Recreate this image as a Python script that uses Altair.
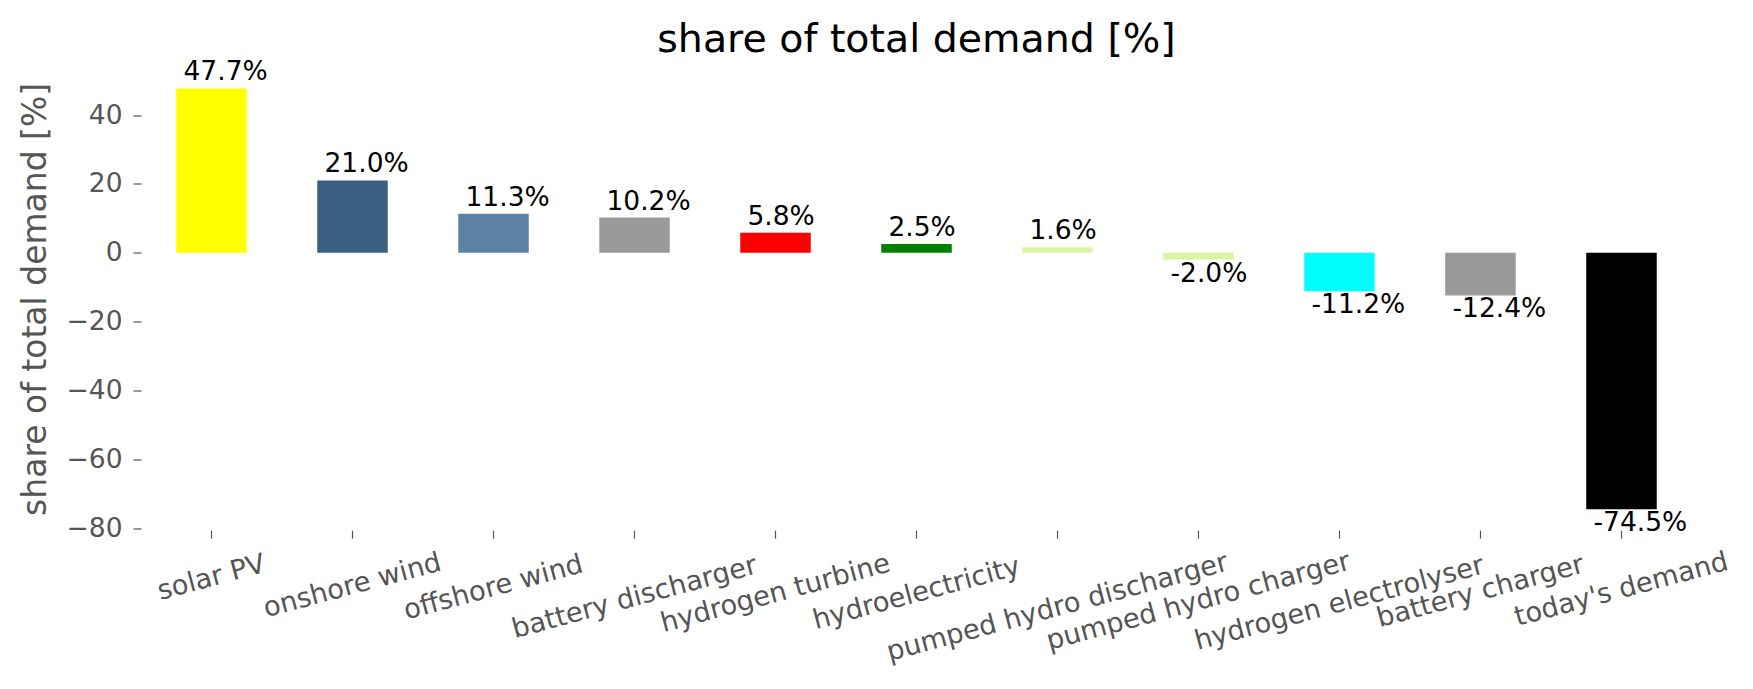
import altair as alt
import pandas as pd

techs = ["solar PV", "onshore wind", "offshore wind", "battery discharger",
         "hydrogen turbine", "hydroelectricity", "pumped hydro discharger",
         "pumped hydro charger", "hydrogen electrolyser", "battery charger",
         "today's demand"]
shares = [47.7, 21.0, 11.3, 10.2, 5.8, 2.5, 1.6, -2.0, -11.2, -12.4, -74.5]
colors = ["#ffff00", "#3b6182", "#5c82a3", "#999999", "#ff0000", "#008000",
          "#d9f5a3", "#d9f5a3", "#00ffff", "#999999", "#000000"]
y_ticks = [-80, -60, -40, -20, 0, 20, 40]

df = pd.DataFrame({"tech": techs, "share": shares, "color": colors})
df["label"] = [f"{v:.1f}%" for v in shares]

W, H = 1551, 462.7
FONT = "DejaVu Sans"
GREY = "#555555"

xs = alt.Scale(domain=techs, paddingInner=0.5, paddingOuter=0.25)
ys = alt.Scale(domain=[-80.6, 53.8], nice=False, zero=False)

base = alt.Chart(df)

bars = base.mark_bar().encode(
    x=alt.X("tech:N", sort=techs, scale=xs,
            axis=alt.Axis(title=None, labels=False, ticks=True, tickSize=8,
                          tickWidth=1.2, tickColor=GREY, domain=False, grid=False)),
    y=alt.Y("share:Q", scale=ys,
            axis=alt.Axis(values=y_ticks, grid=False, domain=False, tickSize=8,
                          tickWidth=1.2, tickColor=GREY, labelFontSize=26.5,
                          labelColor=GREY, labelFont=FONT, labelPadding=11,
                          title="share of total demand [%]", titleFontSize=33,
                          titleColor=GREY, titleFont=FONT, titleFontWeight="normal",
                          titleX=-96, titleY=H / 2, titleAngle=270,
                          titleBaseline="alphabetic", titleAlign="center")),
    y2=alt.datum(0),
    color=alt.Color("color:N", scale=None),
)

pos = base.transform_filter("datum.share >= 0").mark_text(
    align="left", baseline="bottom", dx=-28, dy=-2, fontSize=26.5, font=FONT, color="black"
).encode(
    x=alt.X("tech:N", sort=techs, scale=xs),
    y=alt.Y("share:Q", scale=ys),
    text="label:N",
)

neg = base.transform_filter("datum.share < 0").mark_text(
    align="left", baseline="top", dx=-28, dy=1, fontSize=26.5, font=FONT, color="black"
).encode(
    x=alt.X("tech:N", sort=techs, scale=xs),
    y=alt.Y("share:Q", scale=ys),
    text="label:N",
)

xl = base.transform_calculate(
    ly=f"{H} + 32 + 1.98 * length(datum.tech)"
).mark_text(
    angle=345, align="center", baseline="middle", fontSize=27.3, font=FONT, color=GREY
).encode(
    x=alt.X("tech:N", sort=techs, scale=xs),
    y=alt.Y("ly:Q", scale=None, axis=None),
    text="tech:N",
)

chart = alt.layer(bars, pos, neg, xl).properties(
    width=W, height=H,
    autosize=alt.AutoSizeParams(type="none"),
    padding={"left": 133, "top": 59.5, "right": 50, "bottom": 142},
    background="white",
    title=alt.TitleParams("share of total demand [%]", fontSize=39.5, font=FONT,
                          color="black", fontWeight="normal", anchor="middle",
                          frame="group", baseline="alphabetic", offset=12, dy=44),
).configure_view(strokeWidth=0, stroke="transparent")

chart.save("out.html", embed_options={"renderer": "svg", "actions": False})
